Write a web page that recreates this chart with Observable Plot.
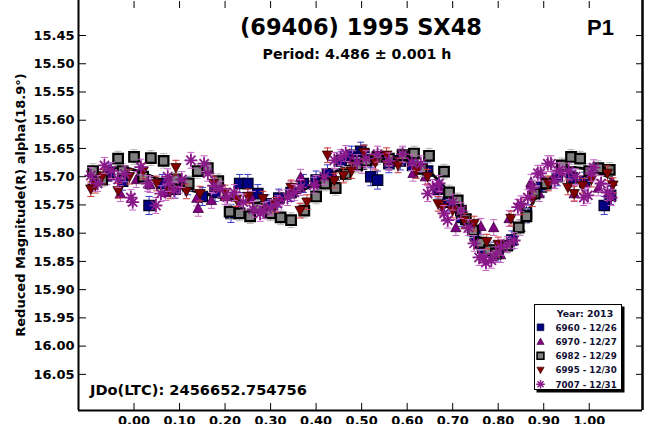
<!DOCTYPE html>
<html>
<head>
<meta charset="utf-8">
<script src="https://cdn.jsdelivr.net/npm/d3@7"></script>
<script src="https://cdn.jsdelivr.net/npm/@observablehq/plot@0.6"></script>
<style>
  html, body { margin: 0; padding: 0; background: #fff; }
  #chart { width: 650px; height: 424px; overflow: hidden; }
  #chart svg { display: block; }
</style>
</head>
<body>
<div id="chart"></div>
<script>
// Reduced R magnitude versus rotational phase, one array of [phase, mag] per session
const session6960 = [
  [-0.085, 15.700], [-0.055, 15.692], [-0.025, 15.708], [0.033, 15.751], [0.062, 15.712],
  [0.090, 15.722], [0.118, 15.716], [0.150, 15.735], [0.178, 15.728], [0.213, 15.765],
  [0.232, 15.712], [0.250, 15.712], [0.272, 15.730], [0.290, 15.748], [0.318, 15.738],
  [0.345, 15.728], [0.372, 15.712], [0.400, 15.706], [0.425, 15.695], [0.455, 15.672],
  [0.478, 15.662], [0.498, 15.655], [0.505, 15.660], [0.520, 15.700], [0.535, 15.706],
  [0.560, 15.677], [0.585, 15.672], [0.612, 15.680], [0.645, 15.690], [0.668, 15.722],
  [0.690, 15.745], [0.720, 15.772], [0.750, 15.805], [0.766, 15.826], [0.784, 15.832],
  [0.800, 15.835], [0.830, 15.812], [0.862, 15.765], [0.895, 15.718], [0.930, 15.700],
  [0.962, 15.702], [0.990, 15.708], [1.033, 15.751], [1.047, 15.733]
];
const session6970 = [
  [-0.090, 15.712], [-0.060, 15.700], [-0.030, 15.730], [0.005, 15.705], [0.035, 15.714],
  [0.070, 15.728], [0.100, 15.715], [0.138, 15.738], [0.141, 15.756], [0.170, 15.742],
  [0.200, 15.735], [0.230, 15.752], [0.260, 15.740], [0.290, 15.758], [0.320, 15.738],
  [0.345, 15.722], [0.366, 15.701], [0.400, 15.712], [0.440, 15.700], [0.480, 15.668],
  [0.500, 15.680], [0.525, 15.672], [0.560, 15.675], [0.585, 15.665], [0.613, 15.694],
  [0.640, 15.700], [0.672, 15.722], [0.707, 15.790], [0.730, 15.785], [0.762, 15.788],
  [0.790, 15.790], [0.805, 15.838], [0.824, 15.774], [0.848, 15.790], [0.872, 15.710],
  [0.890, 15.730], [0.920, 15.705], [0.967, 15.730], [0.990, 15.712], [1.020, 15.720],
  [1.050, 15.708]
];
const session6982 = [
  [-0.090, 15.690], [-0.070, 15.705], [-0.035, 15.668], [-0.025, 15.690], [0.000, 15.665],
  [0.020, 15.700], [0.037, 15.667], [0.065, 15.672], [0.090, 15.705], [0.120, 15.712],
  [0.140, 15.690], [0.162, 15.685], [0.185, 15.708], [0.210, 15.762], [0.232, 15.765],
  [0.255, 15.770], [0.272, 15.755], [0.300, 15.765], [0.322, 15.772], [0.345, 15.777],
  [0.374, 15.760], [0.400, 15.735], [0.420, 15.712], [0.443, 15.720], [0.465, 15.695],
  [0.490, 15.680], [0.510, 15.672], [0.535, 15.665], [0.560, 15.668], [0.590, 15.662],
  [0.615, 15.659], [0.632, 15.686], [0.648, 15.663], [0.681, 15.691], [0.692, 15.728],
  [0.711, 15.742], [0.718, 15.760], [0.729, 15.775], [0.745, 15.795], [0.762, 15.817],
  [0.780, 15.830], [0.795, 15.836], [0.820, 15.822], [0.845, 15.790], [0.862, 15.770],
  [0.880, 15.730], [0.905, 15.712], [0.940, 15.680], [0.960, 15.665], [0.980, 15.668],
  [1.000, 15.690], [1.020, 15.685], [1.045, 15.688]
];
const session6995 = [
  [-0.095, 15.722], [-0.085, 15.716], [-0.070, 15.700], [-0.035, 15.725], [-0.010, 15.700],
  [0.020, 15.690], [0.050, 15.712], [0.080, 15.726], [0.092, 15.684], [0.115, 15.726],
  [0.145, 15.730], [0.175, 15.712], [0.200, 15.728], [0.225, 15.740], [0.250, 15.735],
  [0.283, 15.739], [0.310, 15.750], [0.345, 15.719], [0.365, 15.760], [0.380, 15.745],
  [0.425, 15.662], [0.440, 15.707], [0.460, 15.698], [0.478, 15.690], [0.505, 15.657],
  [0.530, 15.675], [0.555, 15.662], [0.580, 15.680], [0.620, 15.690], [0.645, 15.700],
  [0.668, 15.748], [0.678, 15.755], [0.700, 15.760], [0.725, 15.778], [0.747, 15.783],
  [0.775, 15.815], [0.800, 15.820], [0.828, 15.774], [0.850, 15.754], [0.875, 15.740],
  [0.910, 15.712], [0.953, 15.719], [0.967, 15.730], [0.985, 15.716], [1.005, 15.705],
  [1.040, 15.694], [1.052, 15.715]
];
const session7007 = [
  [-0.095, 15.698], [-0.080, 15.712], [-0.065, 15.680], [-0.050, 15.689], [-0.035, 15.705],
  [-0.020, 15.695], [-0.007, 15.737], [-0.003, 15.745], [0.015, 15.683], [0.030, 15.712],
  [0.048, 15.751], [0.059, 15.730], [0.074, 15.700], [0.076, 15.712], [0.088, 15.724],
  [0.105, 15.705], [0.125, 15.671], [0.154, 15.677], [0.162, 15.694], [0.175, 15.716],
  [0.190, 15.722], [0.205, 15.736], [0.220, 15.728], [0.240, 15.745], [0.262, 15.758],
  [0.277, 15.765], [0.285, 15.760], [0.300, 15.755], [0.315, 15.748], [0.337, 15.737],
  [0.352, 15.728], [0.366, 15.719], [0.395, 15.715], [0.418, 15.700], [0.440, 15.671],
  [0.454, 15.666], [0.465, 15.659], [0.490, 15.675], [0.510, 15.668], [0.535, 15.660],
  [0.560, 15.672], [0.590, 15.660], [0.610, 15.675], [0.630, 15.677], [0.645, 15.730],
  [0.656, 15.719], [0.670, 15.712], [0.681, 15.765], [0.689, 15.777], [0.700, 15.745],
  [0.718, 15.760], [0.735, 15.790], [0.747, 15.818], [0.758, 15.843], [0.769, 15.843],
  [0.773, 15.852], [0.785, 15.848], [0.795, 15.838], [0.806, 15.825], [0.820, 15.820],
  [0.835, 15.813], [0.843, 15.754], [0.850, 15.748], [0.865, 15.737], [0.875, 15.720],
  [0.887, 15.694], [0.893, 15.694], [0.909, 15.677], [0.916, 15.677], [0.924, 15.707],
  [0.933, 15.689], [0.939, 15.694], [0.955, 15.690], [0.970, 15.700], [0.988, 15.737],
  [0.997, 15.733], [1.004, 15.694], [1.010, 15.684], [1.026, 15.712], [1.040, 15.728],
  [1.048, 15.737]
];
// Fourier fit of the lightcurve
const fitCurve = [
  [-0.100, 15.716], [-0.075, 15.696], [-0.050, 15.686], [-0.025, 15.684], [0.000, 15.688],
  [0.025, 15.695], [0.050, 15.703], [0.075, 15.711], [0.100, 15.718], [0.125, 15.724],
  [0.150, 15.729], [0.175, 15.734], [0.200, 15.738], [0.225, 15.742], [0.250, 15.745],
  [0.275, 15.746], [0.300, 15.745], [0.325, 15.741], [0.350, 15.733], [0.375, 15.722],
  [0.400, 15.710], [0.425, 15.698], [0.450, 15.688], [0.475, 15.680], [0.500, 15.674],
  [0.525, 15.670], [0.550, 15.668], [0.575, 15.668], [0.600, 15.671], [0.625, 15.678],
  [0.650, 15.692], [0.675, 15.712], [0.700, 15.738], [0.725, 15.768], [0.750, 15.798],
  [0.775, 15.821], [0.790, 15.830], [0.800, 15.832], [0.815, 15.826], [0.825, 15.816],
  [0.850, 15.783], [0.875, 15.748], [0.900, 15.716], [0.925, 15.696], [0.950, 15.686],
  [0.975, 15.684], [1.000, 15.688], [1.025, 15.695], [1.050, 15.703]
];
const sessionLabels = ["6960 - 12/26", "6970 - 12/27", "6982 - 12/29", "6995 - 12/30", "7007 - 12/31"];
const xTicks = [0.0, 0.1, 0.2, 0.3, 0.4, 0.5, 0.6, 0.7, 0.8, 0.9, 1.0];
const yTicks = [15.45, 15.50, 15.55, 15.60, 15.65, 15.70, 15.75, 15.80, 15.85, 15.90, 15.95, 16.00, 16.05];
const xDomain = [-0.122, 1.117];
const yDomain = [15.388, 16.114];

const titleText = "(69406) 1995 SX48";
const periodText = "Period: 4.486 \u00b1 0.001 h";
const panelText = "P1";
const epochText = "JDo(LTC): 2456652.754756";
const yLabel = "Reduced Magnitude(R) alpha(18.9\u00b0)";
const legendTitle = "Year: 2013";

// Marker shapes (size = pi r^2 as passed by Plot.dot)
const rad = (size) => Math.sqrt(size / Math.PI);
const squareSym = {draw(c, s) { const r = rad(s); c.rect(-r, -r, 2 * r, 2 * r); }};
const triUpSym = {draw(c, s) { const r = rad(s); c.moveTo(0, -r); c.lineTo(r, 0.8 * r); c.lineTo(-r, 0.8 * r); c.closePath(); }};
const triDownSym = {draw(c, s) { const r = rad(s); c.moveTo(0, r); c.lineTo(r, -0.8 * r); c.lineTo(-r, -0.8 * r); c.closePath(); }};
const starSym = {draw(c, s) {
  const r = rad(s);
  for (let k = 0; k < 4; k++) {
    const a = k * Math.PI / 4, dx = Math.cos(a) * r, dy = Math.sin(a) * r;
    c.moveTo(dx, dy); c.lineTo(-dx, -dy);
  }
}};
const capSym = {draw(c, s) { const r = rad(s); c.moveTo(-r, 0); c.lineTo(r, 0); }};

const sessions = [
  {label: sessionLabels[0], data: session6960, symbol: squareSym, r: 5.2, lr: 3.4, fill: "#000080", stroke: "#000022", sw: 1.2, lsw: 0.6, err: 0.016, errColor: "#3a3ac8"},
  {label: sessionLabels[1], data: session6970, symbol: triUpSym, r: 5.2, lr: 3.6, fill: "#800080", stroke: "#3a003a", sw: 0.8, lsw: 0.6, err: 0.014, errColor: "#c468c4"},
  {label: sessionLabels[2], data: session6982, symbol: squareSym, r: 4.8, lr: 3.4, fill: "#808080", stroke: "#000000", sw: 2.2, lsw: 1.6, err: 0.013, errColor: "#b8b8b8"},
  {label: sessionLabels[3], data: session6995, symbol: triDownSym, r: 5.2, lr: 3.6, fill: "#800000", stroke: "#300000", sw: 0.8, lsw: 0.6, err: 0.013, errColor: "#cc3a3a"},
  {label: sessionLabels[4], data: session7007, symbol: starSym, r: 6.5, lr: 4.3, fill: "none", stroke: "#8a1a8a", sw: 1.8, lsw: 1.4, err: 0.014, errColor: "#c462c4"}
];

const FONT = "DejaVu Sans";
const px = (d) => d[0], py = (d) => d[1];

const marks = [Plot.line(fitCurve, {x: px, y: py, stroke: "#000", strokeWidth: 3, curve: "catmull-rom"})];
for (const s of sessions) {
  marks.push(
    Plot.ruleX(s.data, {x: px, y1: (d) => d[1] - s.err, y2: (d) => d[1] + s.err, stroke: s.errColor, strokeWidth: 1}),
    Plot.dot(s.data, {x: px, y: (d) => d[1] - s.err, symbol: capSym, r: 3.5, stroke: s.errColor, strokeWidth: 1}),
    Plot.dot(s.data, {x: px, y: (d) => d[1] + s.err, symbol: capSym, r: 3.5, stroke: s.errColor, strokeWidth: 1}),
    Plot.dot(s.data, {x: px, y: py, symbol: s.symbol, r: s.r, fill: s.fill, stroke: s.stroke, strokeWidth: s.sw})
  );
}
const axisFont = {fontSize: 13, fontWeight: "bold", fontFamily: FONT, label: null};
marks.push(
  Plot.axisY(yTicks, {anchor: "left", tickSize: -8, tickPadding: 12, tickFormat: d3.format(".2f"), ...axisFont}),
  Plot.axisY(yTicks, {anchor: "right", tickSize: -7, tickFormat: () => "", label: null}),
  Plot.axisX(xTicks, {anchor: "bottom", tickSize: -7, tickPadding: 12, tickFormat: d3.format(".2f"), ...axisFont}),
  Plot.axisX(xTicks, {anchor: "top", tickSize: -7, tickFormat: () => "", label: null}),
  Plot.ruleX([xDomain[0]], {stroke: "#000", strokeWidth: 2}),
  Plot.ruleX([xDomain[1]], {stroke: "#000", strokeWidth: 2.5}),
  Plot.ruleY([yDomain[1]], {stroke: "#000", strokeWidth: 2})
);

const chart = Plot.plot({
  width: 650,
  height: 424,
  marginLeft: 78,
  marginRight: 8,
  marginTop: 0,
  marginBottom: 14,
  style: {background: "#fff", color: "#000"},
  x: {domain: xDomain},
  y: {domain: yDomain, reverse: true},
  marks
});

const svg = d3.select(chart);
const addText = (t, x, y, size, anchor, family = FONT, fill = "#000") =>
  svg.append("text").attr("x", x).attr("y", y).attr("text-anchor", anchor)
    .attr("font-family", family).attr("font-weight", "bold").attr("font-size", size)
    .attr("fill", fill).text(t);

addText(titleText, 361, 35, 22.5, "middle");
addText(periodText, 357, 59, 14.2, "middle");
addText(panelText, 587, 35, 22, "start", "Liberation Sans");
addText(epochText, 90, 395, 14.6, "start");
svg.append("text")
  .attr("transform", "translate(25,205) rotate(-90)")
  .attr("text-anchor", "middle").attr("font-family", FONT).attr("font-weight", "bold")
  .attr("font-size", 13).attr("fill", "#000").text(yLabel);

// Legend box with drop shadow
const lg = svg.append("g").attr("transform", "translate(534,304)").attr("text-anchor", "start");
lg.append("rect").attr("x", 2.5).attr("y", 2.5).attr("width", 88).attr("height", 86).attr("fill", "#000");
lg.append("rect").attr("x", 0.5).attr("y", 0.5).attr("width", 87).attr("height", 85).attr("fill", "#fff").attr("stroke", "#000").attr("stroke-width", 1);
lg.append("text").attr("x", 51).attr("y", 12.7).attr("text-anchor", "middle")
  .attr("font-family", FONT).attr("font-weight", "bold").attr("font-size", 9.4).attr("fill", "#111133").text(legendTitle);
sessions.forEach((s, i) => {
  const cy = 23.3 + i * 14.25;
  lg.append("path")
    .attr("transform", `translate(6.5,${cy})`)
    .attr("d", d3.symbol(s.symbol, Math.PI * s.lr * s.lr)())
    .attr("fill", s.fill).attr("stroke", s.stroke)
    .attr("stroke-width", s.lsw);
  lg.append("text").attr("x", 21.5).attr("y", cy + 3.3).attr("text-anchor", "start")
    .attr("font-family", FONT).attr("font-weight", "bold").attr("font-size", 8.7)
    .attr("fill", "#111133").text(s.label);
});

document.getElementById("chart").appendChild(chart);
</script>
</body>
</html>
